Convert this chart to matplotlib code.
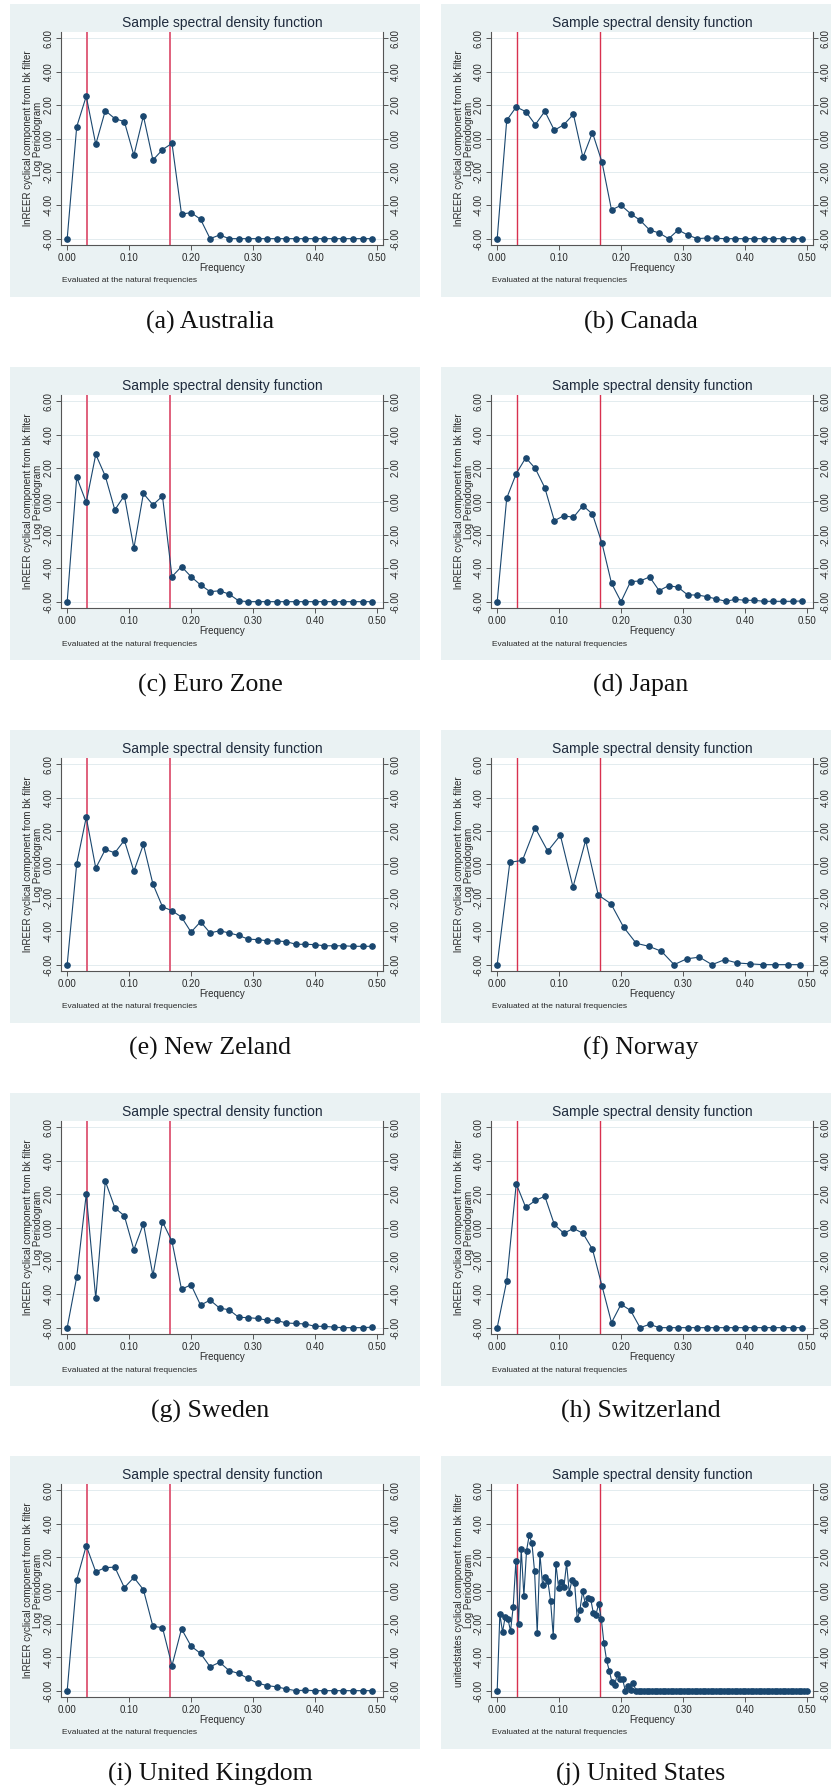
import numpy as np
import matplotlib
matplotlib.use("Agg")
import matplotlib.pyplot as plt
from matplotlib.patches import Rectangle

plt.rcParams['font.family'] = ['Liberation Sans', 'DejaVu Sans']
plt.rcParams['axes.unicode_minus'] = False

# ---------------- data ----------------
n_obs_65 = 65          # sample length for most countries (natural frequencies k/n)
n_obs_49 = 49          # Norway
n_obs_232 = 232        # United States

freq_65 = np.arange(33) / n_obs_65
freq_49 = np.arange(25) / n_obs_49
freq_232 = np.arange(117) / n_obs_232

band_low = 1 / 32
band_high = 1 / 6

australia = [-6.00, 0.71, 2.53, -0.35, 1.67, 1.19, 1.01, -1.01, 1.35, -1.29, -0.67,
             -0.29, -4.53, -4.44, -4.84, -6.00, -5.78, -6.00, -6.00, -6.00, -6.00, -6.00,
             -6.00, -6.00, -6.00, -6.00, -6.00, -6.00, -6.00, -6.00, -6.00, -6.00, -6.00]
canada = [-6.00, 1.09, 1.89, 1.61, 0.83, 1.63, 0.49, 0.83, 1.45, -1.13, 0.35,
          -1.41, -4.28, -4.00, -4.50, -4.90, -5.48, -5.66, -6.00, -5.48, -5.78, -6.00,
          -5.96, -5.98, -6.00, -6.00, -6.00, -6.00, -6.00, -6.00, -6.00, -6.00, -6.00]
euro_zone = [-6.00, 1.45, -0.05, 2.82, 1.52, -0.50, 0.35, -2.80, 0.48, -0.20, 0.32,
             -4.50, -3.90, -4.50, -5.00, -5.40, -5.35, -5.55, -5.95, -6.00, -6.00, -6.00,
             -6.00, -6.00, -6.00, -6.00, -6.00, -6.00, -6.00, -6.00, -6.00, -6.00, -6.00]
japan = [-6.00, 0.20, 1.67, 2.62, 1.98, 0.82, -1.15, -0.85, -0.95, -0.25, -0.75,
         -2.50, -4.90, -6.00, -4.80, -4.76, -4.52, -5.34, -5.04, -5.14, -5.60, -5.60,
         -5.70, -5.84, -5.98, -5.86, -5.92, -5.92, -5.98, -5.98, -5.98, -5.98, -5.96]
new_zealand = [-6.00, 0.05, 2.83, -0.22, 0.90, 0.70, 1.45, -0.40, 1.20, -1.17, -2.53,
               -2.77, -3.15, -4.05, -3.43, -4.10, -3.97, -4.10, -4.25, -4.47, -4.50, -4.57,
               -4.58, -4.62, -4.78, -4.78, -4.80, -4.87, -4.87, -4.87, -4.90, -4.90, -4.90]
norway = [-6.00, 0.13, 0.25, 2.20, 0.80, 1.75, -1.35, 1.45, -1.83, -2.35, -3.75,
          -4.72, -4.90, -5.20, -6.00, -5.65, -5.55, -6.00, -5.70, -5.90, -5.95, -6.00,
          -6.00, -6.00, -6.00]
sweden = [-6.00, -2.97, 2.00, -4.25, 2.78, 1.18, 0.70, -1.33, 0.23, -2.87, 0.35,
          -0.83, -3.70, -3.43, -4.65, -4.35, -4.83, -4.93, -5.38, -5.40, -5.45, -5.55,
          -5.57, -5.72, -5.75, -5.78, -5.92, -5.92, -5.97, -6.00, -6.00, -6.00, -5.97]
switzerland = [-6.00, -3.20, 2.62, 1.20, 1.62, 1.87, 0.18, -0.35, -0.05, -0.35, -1.30,
               -3.50, -5.70, -4.60, -4.97, -6.00, -5.80, -6.00, -6.00, -6.00, -6.00, -6.00,
               -6.00, -6.00, -6.00, -6.00, -6.00, -6.00, -6.00, -6.00, -6.00, -6.00, -6.00]
united_kingdom = [-6.00, 0.63, 2.68, 1.12, 1.37, 1.40, 0.17, 0.78, 0.05, -2.15, -2.22,
                  -4.50, -2.30, -3.33, -3.77, -4.57, -4.30, -4.80, -4.97, -5.27, -5.55, -5.70,
                  -5.77, -5.90, -6.00, -5.97, -6.00, -6.00, -6.00, -6.00, -6.00, -6.00, -6.00]
united_states = [-6.00, -1.41, -2.49, -1.57, -1.69, -2.43, -0.97, 1.75, -1.99, 2.49,
                 -0.32, 2.39, 3.32, 2.86, 1.15, -2.54, 2.21, 0.34, 0.80, 0.54,
                 -0.62, -2.72, 1.61, 0.16, 0.48, 0.22, 1.63, -0.12, 0.62, 0.46,
                 -1.73, -1.15, -0.04, -0.78, -0.44, -0.48, -1.33, -1.45, -0.80, -1.69,
                 -3.16, -4.19, -4.81, -5.49, -5.67, -5.01, -5.33, -5.33, -6.00, -5.75,
                 -5.95, -5.55, -6.00, -6.00, -6.00, -6.00, -6.00, -6.00, -6.00, -6.00,
                 -6.00, -6.00, -6.00, -6.00, -6.00, -6.00, -6.00, -6.00, -6.00, -6.00,
                 -6.00, -6.00, -6.00, -6.00, -6.00, -6.00, -6.00, -6.00, -6.00, -6.00,
                 -6.00, -6.00, -6.00, -6.00, -6.00, -6.00, -6.00, -6.00, -6.00, -6.00,
                 -6.00, -6.00, -6.00, -6.00, -6.00, -6.00, -6.00, -6.00, -6.00, -6.00,
                 -6.00, -6.00, -6.00, -6.00, -6.00, -6.00, -6.00, -6.00, -6.00, -6.00,
                 -6.00, -6.00, -6.00, -6.00, -6.00, -6.00, -6.00]

captions = ["(a) Australia", "(b) Canada", "(c) Euro Zone", "(d) Japan",
            "(e) New Zeland", "(f) Norway", "(g) Sweden", "(h) Switzerland",
            "(i) United Kingdom", "(j) United States"]
series = [australia, canada, euro_zone, japan, new_zealand, norway, sweden,
          switzerland, united_kingdom, united_states]
freqs = [freq_65, freq_65, freq_65, freq_65, freq_65, freq_49, freq_65, freq_65,
         freq_65, freq_232]
ylabel_first = ["lnREER cyclical component from bk filter"] * 9 + \
               ["unitedstates cyclical component from bk filter"]

ytick_vals = [-6, -4, -2, 0, 2, 4, 6]
ytick_labels = ["-6.00", "-4.00", "-2.00", "0.00", "2.00", "4.00", "6.00"]
xtick_vals = [0.0, 0.1, 0.2, 0.3, 0.4, 0.5]
xtick_labels = ["0.00", "0.10", "0.20", "0.30", "0.40", "0.50"]

title_text = "Sample spectral density function"
xlabel_text = "Frequency"
note_text = "Evaluated at the natural frequencies"

# ---------------- styling / layout ----------------
W, H = 831, 1787
BG = '#EAF2F3'
NAVY = '#1A476F'
AXC = '#555555'
TXT = '#2A2A2A'

fig = plt.figure(figsize=(W / 100, H / 100), dpi=100)
fig.patch.set_facecolor('white')


def fx(x):
    return x / W


def fy(y):
    return 1 - y / H


for i in range(10):
    r, c = divmod(i, 2)
    top = 4 + 363 * r
    bgl = 10 if c == 0 else 441
    bgr = 420 if c == 0 else 831
    fig.patches.append(Rectangle((fx(bgl), fy(top + 293)), (bgr - bgl) / W, 293 / H,
                                 transform=fig.transFigure, facecolor=BG,
                                 edgecolor='none', zorder=-10))
    pl = bgl + 51 if c == 0 else bgl + 50
    pw, ph = 322, 213
    ax = fig.add_axes([fx(pl), fy(top + 241), pw / W, ph / H])
    ax.set_zorder(2)
    ax.set_facecolor('white')
    ax.set_xlim(-0.01, 0.51)
    ax.set_ylim(-6.38, 6.38)

    red = '#E0607C' if c == 0 else '#D8314F'
    rlw = 1.4 if c == 0 else 1.0
    ax.axvline(band_low, color=red, lw=rlw, zorder=2)
    ax.axvline(band_high, color=red, lw=rlw, zorder=2)

    ax.plot(freqs[i], series[i], '-o', color=NAVY, lw=0.8, ms=3.8,
            mec=NAVY, mfc=NAVY, zorder=3, clip_on=False)

    ax.set_yticks(ytick_vals)
    ax.set_yticklabels(ytick_labels, rotation=90, va='center', fontsize=7, color=TXT)
    ax.set_xticks(xtick_vals)
    ax.set_xticklabels(xtick_labels, fontsize=7, color=TXT)
    ax.grid(axis='y', color='#E3ECEF', lw=0.7, zorder=1)
    ax.set_axisbelow(True)
    ax.tick_params(axis='both', direction='out', length=3.5, width=0.7, color=AXC, pad=2)
    for s in ['top', 'right']:
        ax.spines[s].set_visible(False)
    for s in ['left', 'bottom']:
        ax.spines[s].set_color(AXC)
        ax.spines[s].set_linewidth(0.8)

    ax2 = ax.twinx()
    ax2.set_zorder(3)
    ax2.patch.set_visible(False)
    ax2.set_ylim(ax.get_ylim())
    ax2.set_yticks(ytick_vals)
    ax2.set_yticklabels(ytick_labels, rotation=90, va='center', fontsize=7, color=TXT)
    ax2.tick_params(axis='y', direction='out', length=3.5, width=0.7, color=AXC, pad=2)
    for s in ['top', 'left', 'bottom']:
        ax2.spines[s].set_visible(False)
    ax2.spines['right'].set_color(AXC)
    ax2.spines['right'].set_linewidth(0.8)

    cx = pl + pw / 2
    fig.text(fx(cx), fy(top + 19), title_text, ha='center', va='center',
             fontsize=10, color='#1E2A3C')
    fig.text(fx(cx), fy(top + 264), xlabel_text, ha='center', va='center',
             fontsize=7, color=TXT)
    fig.text(fx(pl + 1), fy(top + 277), note_text, ha='left', va='center',
             fontsize=6, color=TXT)
    fig.text(fx(bgl + 23), fy(top + 134.5), ylabel_first[i] + "\nLog Periodogram",
             rotation=90, ha='center', va='center', multialignment='center',
             fontsize=7, color=TXT, linespacing=1.05)
    capx = 210 if c == 0 else 641
    fig.text(fx(capx), fy(top + 318), captions[i], ha='center', va='center',
             fontsize=18.5, family=['Liberation Serif', 'DejaVu Serif'], color='#111111')

fig.savefig('out.png', dpi=100, facecolor='white')
